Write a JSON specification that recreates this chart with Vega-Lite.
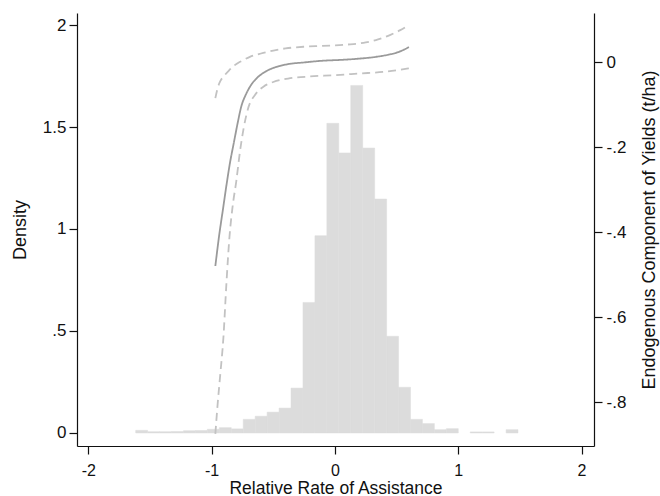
{
  "$schema": "https://vega.github.io/schema/vega-lite/v6.json",
  "width": 517,
  "height": 433,
  "autosize": {"type": "none"},
  "padding": {"left": 77, "top": 13, "right": 66, "bottom": 50},
  "background": "white",
  "config": {
    "view": {"stroke": null},
    "font": "Liberation Sans",
    "axis": {
      "grid": false,
      "domainColor": "#111",
      "tickColor": "#111",
      "labelColor": "#111",
      "titleColor": "#111",
      "domainWidth": 1.2,
      "tickWidth": 1.2,
      "tickSize": 8,
      "labelFontSize": 17,
      "titleFontSize": 18,
      "titleFontWeight": "normal",
      "labelFont": "Liberation Sans",
      "titleFont": "Liberation Sans"
    }
  },
  "datasets": {
    "hist": [
      {"lo": -1.616, "hi": -1.5191, "density": 0.013},
      {"lo": -1.5191, "hi": -1.4222, "density": 0.006},
      {"lo": -1.4222, "hi": -1.3253, "density": 0.006},
      {"lo": -1.3253, "hi": -1.2284, "density": 0.007},
      {"lo": -1.2284, "hi": -1.1315, "density": 0.011},
      {"lo": -1.1315, "hi": -1.0346, "density": 0.012},
      {"lo": -1.0346, "hi": -0.9377, "density": 0.018},
      {"lo": -0.9377, "hi": -0.8408, "density": 0.026},
      {"lo": -0.8408, "hi": -0.7439, "density": 0.02},
      {"lo": -0.7439, "hi": -0.647, "density": 0.067},
      {"lo": -0.647, "hi": -0.5501, "density": 0.082},
      {"lo": -0.5501, "hi": -0.4532, "density": 0.102},
      {"lo": -0.4532, "hi": -0.3563, "density": 0.122},
      {"lo": -0.3563, "hi": -0.2594, "density": 0.22},
      {"lo": -0.2594, "hi": -0.1625, "density": 0.64},
      {"lo": -0.1625, "hi": -0.0656, "density": 0.967},
      {"lo": -0.0656, "hi": 0.0313, "density": 1.518},
      {"lo": 0.0313, "hi": 0.1282, "density": 1.373},
      {"lo": 0.1282, "hi": 0.2251, "density": 1.704},
      {"lo": 0.2251, "hi": 0.322, "density": 1.397},
      {"lo": 0.322, "hi": 0.4189, "density": 1.147},
      {"lo": 0.4189, "hi": 0.5158, "density": 0.474},
      {"lo": 0.5158, "hi": 0.6127, "density": 0.224},
      {"lo": 0.6127, "hi": 0.7096, "density": 0.067},
      {"lo": 0.7096, "hi": 0.8065, "density": 0.046},
      {"lo": 0.8065, "hi": 0.9034, "density": 0.016},
      {"lo": 0.9034, "hi": 1.0003, "density": 0.021},
      {"lo": 1.0972, "hi": 1.1941, "density": 0.005},
      {"lo": 1.1941, "hi": 1.291, "density": 0.005},
      {"lo": 1.3879, "hi": 1.4848, "density": 0.016}
    ],
    "curves": [
      {"series": "estimate", "rra": -0.97, "yield": -0.48},
      {"series": "estimate", "rra": -0.94, "yield": -0.41},
      {"series": "estimate", "rra": -0.91, "yield": -0.35},
      {"series": "estimate", "rra": -0.88, "yield": -0.29},
      {"series": "estimate", "rra": -0.85, "yield": -0.235},
      {"series": "estimate", "rra": -0.82, "yield": -0.19},
      {"series": "estimate", "rra": -0.79, "yield": -0.145},
      {"series": "estimate", "rra": -0.76, "yield": -0.105},
      {"series": "estimate", "rra": -0.72, "yield": -0.075},
      {"series": "estimate", "rra": -0.68, "yield": -0.054},
      {"series": "estimate", "rra": -0.63, "yield": -0.037},
      {"series": "estimate", "rra": -0.56, "yield": -0.022},
      {"series": "estimate", "rra": -0.48, "yield": -0.012},
      {"series": "estimate", "rra": -0.38, "yield": -0.005},
      {"series": "estimate", "rra": -0.25, "yield": -0.001},
      {"series": "estimate", "rra": -0.1, "yield": 0.003},
      {"series": "estimate", "rra": 0.05, "yield": 0.005},
      {"series": "estimate", "rra": 0.2, "yield": 0.008},
      {"series": "estimate", "rra": 0.33, "yield": 0.012},
      {"series": "estimate", "rra": 0.43, "yield": 0.017},
      {"series": "estimate", "rra": 0.52, "yield": 0.024},
      {"series": "estimate", "rra": 0.6, "yield": 0.035},
      {"series": "upper", "rra": -0.97, "yield": -0.085},
      {"series": "upper", "rra": -0.95, "yield": -0.06},
      {"series": "upper", "rra": -0.93, "yield": -0.045},
      {"series": "upper", "rra": -0.9, "yield": -0.033},
      {"series": "upper", "rra": -0.86, "yield": -0.02},
      {"series": "upper", "rra": -0.82, "yield": -0.009},
      {"series": "upper", "rra": -0.76, "yield": 0.002},
      {"series": "upper", "rra": -0.69, "yield": 0.012},
      {"series": "upper", "rra": -0.6, "yield": 0.02},
      {"series": "upper", "rra": -0.5, "yield": 0.027},
      {"series": "upper", "rra": -0.4, "yield": 0.032},
      {"series": "upper", "rra": -0.25, "yield": 0.036},
      {"series": "upper", "rra": -0.1, "yield": 0.038},
      {"series": "upper", "rra": 0.1, "yield": 0.041},
      {"series": "upper", "rra": 0.25, "yield": 0.046},
      {"series": "upper", "rra": 0.35, "yield": 0.053},
      {"series": "upper", "rra": 0.45, "yield": 0.064},
      {"series": "upper", "rra": 0.53, "yield": 0.075},
      {"series": "upper", "rra": 0.6, "yield": 0.087},
      {"series": "lower", "rra": -0.97, "yield": -0.875},
      {"series": "lower", "rra": -0.95, "yield": -0.8},
      {"series": "lower", "rra": -0.93, "yield": -0.735},
      {"series": "lower", "rra": -0.905, "yield": -0.65},
      {"series": "lower", "rra": -0.88, "yield": -0.52},
      {"series": "lower", "rra": -0.855, "yield": -0.41},
      {"series": "lower", "rra": -0.83, "yield": -0.34},
      {"series": "lower", "rra": -0.8, "yield": -0.28},
      {"series": "lower", "rra": -0.77, "yield": -0.21},
      {"series": "lower", "rra": -0.74, "yield": -0.155},
      {"series": "lower", "rra": -0.7, "yield": -0.105},
      {"series": "lower", "rra": -0.65, "yield": -0.078},
      {"series": "lower", "rra": -0.58, "yield": -0.058},
      {"series": "lower", "rra": -0.5, "yield": -0.047},
      {"series": "lower", "rra": -0.38, "yield": -0.039},
      {"series": "lower", "rra": -0.2, "yield": -0.034},
      {"series": "lower", "rra": 0.0, "yield": -0.031},
      {"series": "lower", "rra": 0.2, "yield": -0.027},
      {"series": "lower", "rra": 0.4, "yield": -0.023},
      {"series": "lower", "rra": 0.6, "yield": -0.015}
    ]
  },
  "layer": [
    {
      "data": {"name": "hist"},
      "mark": {"type": "bar", "color": "#dcdcdc", "stroke": "#dcdcdc", "strokeWidth": 0.5},
      "encoding": {
        "x": {
          "field": "lo",
          "type": "quantitative",
          "scale": {"domain": [-2.092, 2.101], "nice": false, "zero": false},
          "axis": {
            "values": [-2, -1, 0, 1, 2],
            "labelExpr": "'' + datum.value",
            "labelFontSize": 16,
            "labelPadding": 8,
            "title": "Relative Rate of Assistance",
            "titleFontSize": 17.5,
            "titleBaseline": "alphabetic",
            "titleX": 258.5,
            "titleY": 47,
            "titleAnchor": "middle",
            "titleAlign": "center"
          }
        },
        "x2": {"field": "hi"},
        "y": {
          "field": "density",
          "type": "quantitative",
          "scale": {"domain": [-0.064, 2.059], "nice": false, "zero": false},
          "axis": {
            "values": [0, 0.5, 1, 1.5, 2],
            "labelExpr": "replace('' + datum.value, '0.', '.')",
            "labelPadding": 3,
            "title": "Density",
            "titleAngle": -90,
            "titleBaseline": "alphabetic",
            "titleAlign": "center",
            "titleX": -52,
            "titleY": 216.5
          }
        },
        "y2": {"datum": 0}
      }
    },
    {
      "data": {"name": "curves"},
      "mark": {"type": "line", "interpolate": "monotone", "strokeWidth": 1.8},
      "encoding": {
        "x": {"field": "rra", "type": "quantitative"},
        "y": {
          "field": "yield",
          "type": "quantitative",
          "scale": {"domain": [-0.9035, 0.1153], "nice": false, "zero": false},
          "axis": {
            "orient": "right",
            "values": [-0.8, -0.6, -0.4, -0.2, 0],
            "labelExpr": "replace('' + datum.value, '0.', '.')",
            "labelPadding": 4,
            "title": "Endogenous Component of Yields (t/ha)",
            "titleAngle": -90,
            "titleBaseline": "alphabetic",
            "titleAlign": "center",
            "titleX": 60,
            "titleY": 216.5
          }
        },
        "color": {
          "field": "series",
          "type": "nominal",
          "scale": {"domain": ["estimate", "upper", "lower"], "range": ["#9a9a9a", "#c2c2c2", "#c2c2c2"]},
          "legend": null
        },
        "strokeDash": {
          "field": "series",
          "type": "nominal",
          "scale": {"domain": ["estimate", "upper", "lower"], "range": [[1, 0], [8, 5], [8, 5]]},
          "legend": null
        }
      }
    }
  ],
  "resolve": {"scale": {"y": "independent"}}
}
